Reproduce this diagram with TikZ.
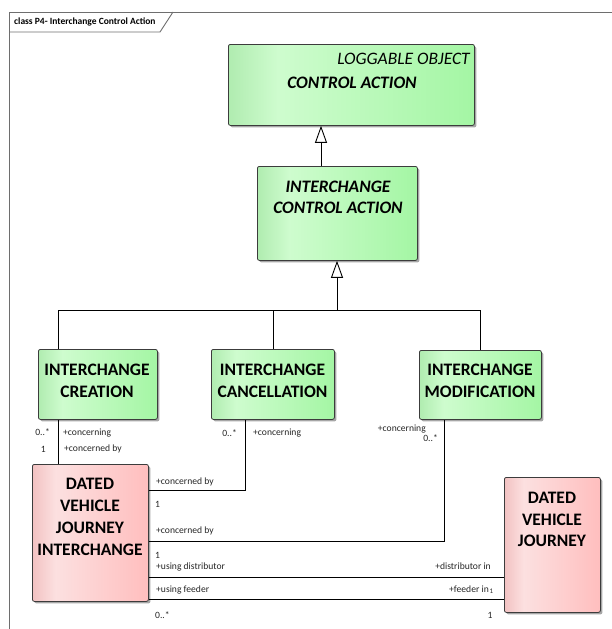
\documentclass[tikz,border=0pt]{standalone}
\usepackage{fontspec}
\setmainfont{Carlito}
\usetikzlibrary{arrows.meta,shadows}
\definecolor{gl}{RGB}{176,236,176}
\definecolor{gm}{RGB}{206,252,206}
\definecolor{gr}{RGB}{164,246,164}
\definecolor{pl}{RGB}{242,194,194}
\definecolor{pm}{RGB}{252,224,224}
\definecolor{pr}{RGB}{255,190,190}
\definecolor{bd}{RGB}{60,60,60}
\definecolor{fr}{RGB}{110,110,110}
\pgfdeclarehorizontalshading{greenshade}{100bp}{color(0bp)=(gl); color(25bp)=(gl); color(35bp)=(gm); color(75bp)=(gr); color(100bp)=(gr)}
\pgfdeclarehorizontalshading{pinkshade}{100bp}{color(0bp)=(pl); color(25bp)=(pl); color(35bp)=(pm); color(75bp)=(pr); color(100bp)=(pr)}
\begin{document}
\begin{tikzpicture}[x=1pt,y=-1pt,
  box/.style={draw=bd, line width=0.8pt, rounded corners=2pt, inner sep=0pt, anchor=north west,
    drop shadow={shadow xshift=2pt, shadow yshift=-2pt, opacity=0.35, fill=black}},
  gbox/.style={box, shade, shading=greenshade},
  pbox/.style={box, shade, shading=pinkshade},
  big/.style={font=\fontsize{17.5}{21.8}\selectfont\bfseries, align=center, inner sep=0pt},
  bigit/.style={font=\fontsize{17.5}{21.5}\selectfont\bfseries\itshape, align=center, inner sep=0pt},
  stereo/.style={font=\fontsize{17.5}{21}\selectfont\itshape, inner sep=0pt},
  lab/.style={font=\fontsize{9.6}{11}\selectfont, inner sep=0pt, text=black!85},
  conn/.style={draw=black, line width=0.9pt},
  gen/.style={conn, -{Triangle[open, width=12pt, length=17pt, line width=0.9pt]}},
  framel/.style={draw=fr, line width=0.9pt}
]
\useasboundingbox (0,0) rectangle (612,629);

% frame
\draw[framel] (9,629) -- (9,12) -- (612,12);
\draw[framel] (9,32) -- (160,32) -- (173,12);
\node[font=\fontsize{9.5}{11}\selectfont\bfseries, anchor=west, inner sep=0pt] (title) at (14,22) {class P4- Interchange Control Action};

% boxes
\node[gbox, minimum width=246pt, minimum height=81pt] (ca) at (228,44) {};
\node[gbox, minimum width=160pt, minimum height=94pt] (ica) at (257,166) {};
\node[gbox, minimum width=119pt, minimum height=70pt] (cre) at (38,349) {};
\node[gbox, minimum width=123pt, minimum height=70pt] (can) at (211,349) {};
\node[gbox, minimum width=122pt, minimum height=69pt] (mod) at (419,350) {};
\node[pbox, minimum width=116pt, minimum height=137pt] (dvji) at (32,464) {};
\node[pbox, minimum width=96pt, minimum height=135pt] (dvj) at (504,477) {};

% box texts
\node[stereo, anchor=east] (ca-s) at (470,59) {LOGGABLE OBJECT};
\node[bigit] (ca-t) at (352,83) {CONTROL ACTION};
\node[bigit] (ica-t) at (338,197.5) {INTERCHANGE\\CONTROL ACTION};
\node[big] (cre-t) at (97,381) {INTERCHANGE\\CREATION};
\node[big] (can-t) at (272.5,381) {INTERCHANGE\\CANCELLATION};
\node[big] (mod-t) at (480,381) {INTERCHANGE\\MODIFICATION};
\node[big] (dvji-t) at (90,517) {DATED\\VEHICLE\\JOURNEY\\INTERCHANGE};
\node[big] (dvj-t) at (552,519.5) {DATED\\VEHICLE\\JOURNEY};

% helper coordinates
\coordinate (g1) at (321,0);
\coordinate (j0) at (337,310);
\coordinate (hl) at (58,310);
\coordinate (hm) at (273,310);
\coordinate (hr) at (480,310);
\coordinate (c2) at (245,490);
\coordinate (c4) at (444,541);
\coordinate (c6) at (0,577);
\coordinate (c7) at (0,599);

% generalizations
\draw[gen] (ica.north -| g1) -- (ca.south -| g1);
\draw[conn] (cre.north -| hl) -- (hl) -- (hr) -- (mod.north -| hr);
\draw[conn] (can.north -| hm) -- (hm);
\draw[gen] (j0) -- (ica.south -| j0);

% associations
\draw[conn] (cre.south -| hl) -- (dvji.north -| hl);
\draw[conn] (can.south -| c2) |- (dvji.east |- c2);
\draw[conn] (mod.south -| c4) |- (dvji.east |- c4);
\draw[conn] (dvji.east |- c6) -- (dvj.west |- c6);
\draw[conn] (dvji.east |- c7) -- (dvj.west |- c7);

% labels
\node[lab, anchor=east] (l1) at (50,432) {0..*};
\node[lab, anchor=west] (l2) at (63,433) {+concerning};
\node[lab, anchor=east] (l3) at (46,449) {1};
\node[lab, anchor=west] (l4) at (64,449) {+concerned by};
\node[lab, anchor=east] (l5) at (237,433) {0..*};
\node[lab, anchor=west] (l6) at (253,433) {+concerning};
\node[lab, anchor=west] (l7) at (156,482) {+concerned by};
\node[lab, anchor=west] (l8) at (155,504) {1};
\node[lab, anchor=east] (l9) at (426,429) {+concerning};
\node[lab, anchor=east] (l10) at (438,438) {0..*};
\node[lab, anchor=west] (l11) at (156,531) {+concerned by};
\node[lab, anchor=west] (l12) at (155,555) {1};
\node[lab, anchor=west] (l13) at (156,567) {+using distributor};
\node[lab, anchor=east] (l14) at (491,566) {+distributor in};
\node[lab, anchor=west] (l15) at (156,590) {+using feeder};
\node[lab, anchor=east] (l16) at (489,589) {+feeder in};
\node[lab, font=\fontsize{7}{8}\selectfont, anchor=west] (l16b) at (489.5,591) {1};
\node[lab] (l17) at (490,615) {1};
\node[lab, anchor=west] (l18) at (155,615) {0..*};
\end{tikzpicture}
\end{document}
